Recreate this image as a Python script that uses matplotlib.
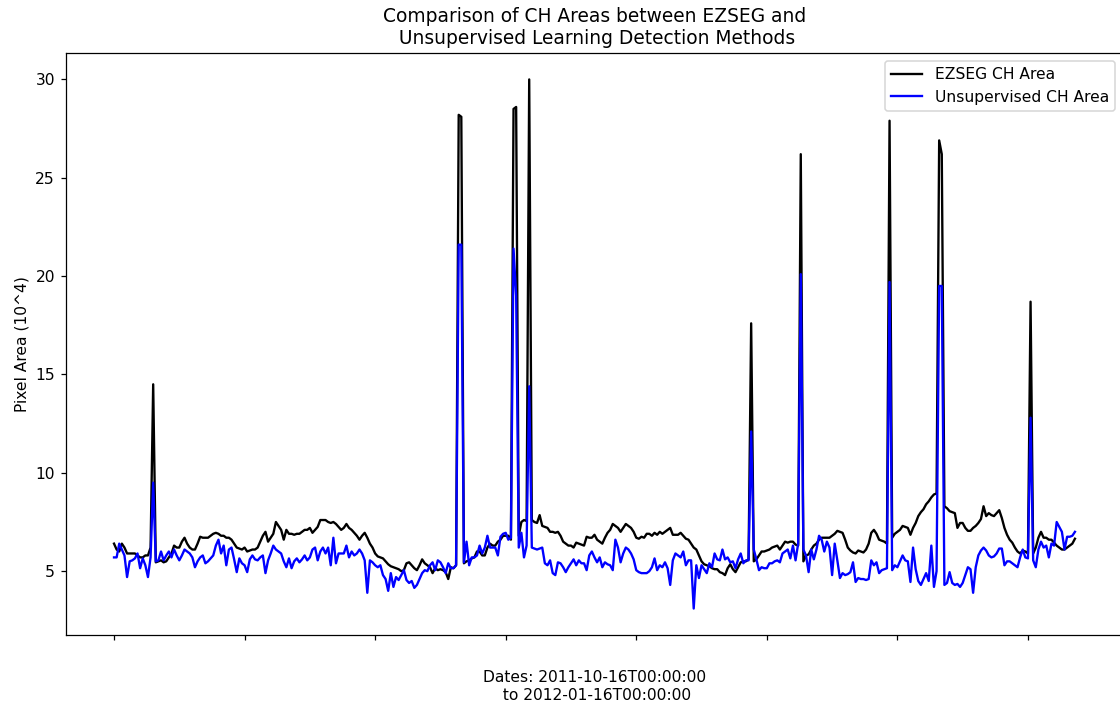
import matplotlib
matplotlib.use("Agg")
import matplotlib.pyplot as plt
import numpy as np

ezseg_area = [
    6.4, 6.1, 6.0, 6.4, 6.2, 5.9, 5.9, 5.9, 5.9, 5.8, 5.7, 5.7, 5.8, 5.8, 6.2,
    14.5,
    5.45, 5.5, 5.55, 5.45, 5.5, 5.7, 5.9, 6.3, 6.2, 6.2, 6.5, 6.7, 6.4, 6.2,
    6.1, 6.1, 6.4, 6.75, 6.7, 6.7, 6.7, 6.8, 6.9, 6.95, 6.9, 6.8, 6.8, 6.7, 6.7, 6.6, 6.4, 6.2, 6.15, 6.1, 6.2,
    6.0, 6.05, 6.1, 6.1, 6.2, 6.5, 6.8, 7.0, 6.5, 6.7, 6.9, 7.5, 7.3, 7.1, 6.6, 7.1, 6.9, 6.9, 6.85, 6.9, 6.9, 7.0, 7.1, 7.1, 7.2,
    6.95, 7.1, 7.25, 7.6, 7.6, 7.6, 7.5, 7.45, 7.5, 7.4, 7.25, 7.1, 7.2, 7.4, 7.2, 7.1, 6.95, 6.8, 6.6, 6.8, 6.95, 6.7, 6.4, 6.2,
    5.9, 5.75, 5.7, 5.65, 5.5, 5.35, 5.25, 5.2, 5.15, 5.1, 5.0, 5.05, 5.4, 5.45,
    5.3, 5.15, 5.05, 5.3, 5.6, 5.4, 5.3, 5.2, 4.9, 5.15, 5.05, 5.1, 5.05, 4.95, 4.6, 5.2, 5.15, 5.3,
    28.2, 28.1,
    5.4, 5.5, 5.55, 5.65, 5.7, 6.0, 6.0, 5.8, 5.8, 6.2, 6.4, 6.3, 6.3, 6.5, 6.6, 6.8, 6.8, 6.8, 6.6,
    28.5, 28.6,
    6.8, 7.5, 7.6, 7.55,
    30.0,
    7.6, 7.5, 7.45, 7.85, 7.3, 7.25, 7.2, 7.0, 7.0, 6.95, 7.0, 6.8, 6.5, 6.4, 6.3, 6.3, 6.2, 6.45, 6.4, 6.35,
    6.3, 6.75, 6.7, 6.7, 6.85, 6.6, 6.5, 6.4, 6.7, 6.95,
    7.1, 7.4, 7.3, 7.2, 7.0, 7.2, 7.4, 7.3, 7.2, 7.0, 6.7, 6.65, 6.75, 6.7, 6.9, 6.9, 6.8, 6.95, 6.85, 7.0,
    6.9, 7.0, 7.1, 7.2, 6.85, 6.85, 6.85, 6.95, 6.8, 6.65, 6.6, 6.4, 6.2, 6.1, 5.8, 5.5, 5.35, 5.3, 5.25,
    5.15, 5.1, 5.1, 4.95, 4.9, 4.8, 5.15, 5.35, 5.1, 4.95, 5.2, 5.45, 5.5, 5.5, 5.6,
    17.6,
    5.5, 5.6, 5.8, 6.0, 6.0, 6.05, 6.1, 6.2, 6.25, 6.3, 6.1, 6.3, 6.5, 6.45, 6.5, 6.5, 6.35, 6.3,
    26.2,
    5.5, 5.8, 5.85,
    6.1, 6.3, 6.4, 6.6, 6.7, 6.7, 6.7, 6.7, 6.8, 6.9, 7.05, 7.0, 6.95, 6.6, 6.2, 6.05, 5.95, 5.9, 6.05, 6.0,
    5.95, 6.1, 6.4, 6.95, 7.1, 6.9, 6.6, 6.55, 6.5, 6.4,
    27.9,
    6.7, 6.9, 7.0, 7.1, 7.3, 7.25, 7.2,
    6.85, 7.2, 7.45, 7.8, 8.0, 8.15, 8.4, 8.55, 8.75, 8.9, 8.95,
    26.9, 26.2,
    8.3, 8.2, 8.05, 8.0, 7.95, 7.2, 7.45, 7.45, 7.2, 7.05, 7.05, 7.2, 7.3, 7.45, 7.65, 8.3, 7.8, 7.95, 7.85, 7.8,
    7.95, 8.1, 7.7, 7.2, 6.85,
    6.6, 6.45, 6.2, 6.0, 5.9, 6.05, 6.0, 5.9,
    18.7,
    5.9, 6.2, 6.7, 7.0, 6.7, 6.7, 6.6, 6.6, 6.45, 6.3, 6.2, 6.1, 6.1, 6.2, 6.3, 6.4, 6.65,
]

unsupervised_area = [
    5.7, 5.7, 6.4, 6.1, 5.8, 4.7, 5.5, 5.55, 5.65, 5.9, 5.15, 5.65, 5.3, 4.7, 5.7,
    9.5,
    5.5, 5.55, 6.0, 5.55, 5.8, 6.0, 5.7, 6.1, 5.8, 5.55, 5.8, 6.1, 6.0, 5.9,
    5.7, 5.2, 5.5, 5.7, 5.8, 5.4, 5.5, 5.65, 5.8, 6.3, 6.6, 5.9, 6.3, 5.3, 6.1, 6.2, 5.6, 4.95, 5.65, 5.4, 5.3,
    4.95, 5.6, 5.8, 5.6, 5.55, 5.7, 5.8, 4.9, 5.55, 5.9, 6.3, 6.1, 6.0, 5.9, 5.5, 5.2, 5.65, 5.15, 5.5, 5.65, 5.45, 5.6, 5.8, 5.55, 5.7,
    6.1, 6.2, 5.55, 6.0, 6.2, 5.9, 6.2, 5.3, 6.7, 5.4, 5.9, 5.9, 5.9, 6.3, 5.7, 6.0, 5.8, 5.9, 6.1, 5.9,
    5.55, 3.9, 5.55, 5.45, 5.3, 5.2, 5.3, 4.8, 4.6, 4.0, 4.9, 4.2, 4.7, 4.55, 4.8, 5.05, 4.55, 4.4,
    4.5, 4.15, 4.3, 4.6, 4.9, 5.05, 5.0, 5.3, 5.45, 5.05, 5.55, 5.45, 5.2, 4.9, 5.4, 5.15, 5.15, 5.3,
    21.6, 21.6,
    5.45, 6.5, 5.3, 5.7, 5.7, 5.8, 6.3, 5.9, 6.2, 6.8, 6.2, 6.2, 6.2, 5.8, 6.75, 6.9, 6.95, 6.6, 6.7,
    21.4, 19.0,
    6.2, 6.95, 5.7, 6.3,
    14.4,
    6.2, 6.15, 6.1, 6.15, 6.2, 5.4, 5.3, 5.55, 4.9, 4.8, 5.45, 5.4, 5.2, 4.95, 5.2, 5.4, 5.6, 5.3, 5.55, 5.4,
    5.4, 5.05, 5.8, 6.0, 5.7, 5.45, 5.7, 5.2, 5.45, 5.35,
    5.3, 5.05, 6.6, 6.2, 5.45, 5.9, 6.2, 6.1, 5.9, 5.6, 5.05, 4.95, 4.9, 4.9, 4.9, 5.0, 5.2, 5.65, 5.05, 5.3,
    5.2, 5.45, 5.15, 4.3, 5.55, 5.9, 5.8, 5.7, 6.0, 5.3, 5.55, 5.55, 3.1, 5.3, 4.65, 5.3, 5.1, 4.9, 5.4,
    5.2, 5.9, 5.6, 5.55, 6.1, 5.6, 5.7, 5.45, 5.5, 5.15, 5.6, 5.9, 5.4, 5.55, 5.55,
    12.1,
    6.1, 5.6, 5.05, 5.2, 5.15, 5.15, 5.4, 5.4, 5.5, 5.55, 5.45, 5.9, 6.0, 6.1, 5.65, 6.3, 5.55, 6.4,
    20.1,
    6.1, 5.8, 4.95,
    6.1, 5.6, 6.1, 6.8, 6.6, 6.0, 6.5, 6.2, 4.8, 6.4, 5.55, 4.65, 4.9, 4.8, 4.85, 4.95, 5.45, 4.45, 4.65, 4.6,
    4.6, 4.55, 4.6, 5.55, 5.3, 5.45, 4.9, 5.05, 5.1, 5.15,
    19.7,
    5.05, 5.3, 5.2, 5.5, 5.8, 5.55, 5.5,
    4.45, 6.2, 5.1, 4.5, 4.3, 4.6, 4.9, 4.5, 6.3, 4.2, 5.0,
    19.5, 19.5,
    4.3, 4.4, 4.95, 4.4, 4.3, 4.35, 4.2, 4.4, 4.8, 5.2, 5.1, 3.9, 5.2, 5.8, 6.05, 6.2, 6.05, 5.8, 5.7, 5.75,
    5.9, 6.15, 6.15, 5.3, 5.5,
    5.5, 5.4, 5.3, 5.2, 5.7, 6.1, 5.7, 5.65,
    12.8,
    5.55, 5.2, 6.1, 6.5, 6.2, 6.3, 5.7, 6.4, 6.3, 7.5, 7.25, 7.0, 6.1, 6.75, 6.75, 6.8, 7.0,
]

title_text = "Comparison of CH Areas between EZSEG and\n Unsupervised Learning Detection Methods"
xlabel_text = "Dates: 2011-10-16T00:00:00\n to 2012-01-16T00:00:00"
ylabel_text = "Pixel Area (10^4)"
legend_labels = ["EZSEG CH Area", "Unsupervised CH Area"]

fig = plt.figure(figsize=(10, 711 / 112), dpi=112)
ax = fig.add_subplot(111)
fig.subplots_adjust(left=0.0589, right=1123 / 1120, top=0.9255, bottom=0.1069)

x = np.arange(len(ezseg_area))
ax.plot(x, ezseg_area, color="black", label=legend_labels[0])
ax.plot(x, unsupervised_area, color="blue", label=legend_labels[1])

ax.set_xticks(np.arange(0, 351, 50))
ax.set_xticklabels([" "] * 8)
ax.set_title(title_text)
ax.set_xlabel(xlabel_text, labelpad=6)
ax.set_ylabel(ylabel_text)
ax.legend(loc="upper right")

fig.savefig("out.png", dpi=112)
